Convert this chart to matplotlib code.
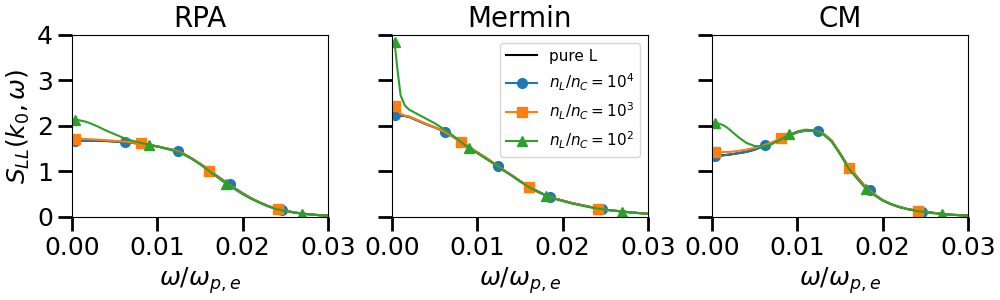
import matplotlib
matplotlib.use("Agg")
import matplotlib.pyplot as plt
import numpy as np

# shared frequency grid, omega / omega_pe
omega = [0.0003, 0.0006, 0.001, 0.0015, 0.002, 0.003, 0.004, 0.005, 0.006, 0.007,
         0.008, 0.009, 0.010, 0.011, 0.012, 0.013, 0.014, 0.015, 0.016, 0.017,
         0.018, 0.019, 0.020, 0.021, 0.022, 0.023, 0.024, 0.025, 0.026, 0.027,
         0.028, 0.029, 0.030]

titles = ["RPA", "Mermin", "CM"]
labels = ["pure L", r"$n_L/n_C=10^4$", r"$n_L/n_C=10^3$", r"$n_L/n_C=10^2$"]

# ---- RPA
rpa_pure = [1.68, 1.68, 1.68, 1.68, 1.68, 1.675, 1.67, 1.66, 1.645, 1.63,
            1.61, 1.58, 1.55, 1.51, 1.47, 1.40, 1.29, 1.17, 1.04, 0.90,
            0.77, 0.64, 0.52, 0.41, 0.32, 0.24, 0.18, 0.14, 0.10, 0.075,
            0.055, 0.04, 0.03]
rpa_1e4 = rpa_pure
rpa_1e3 = [1.72, 1.72, 1.715, 1.715, 1.71, 1.70, 1.69, 1.675, 1.66, 1.64,
           1.62, 1.59, 1.555, 1.51, 1.47, 1.40, 1.29, 1.17, 1.03, 0.89,
           0.76, 0.63, 0.51, 0.41, 0.32, 0.24, 0.18, 0.14, 0.10, 0.075,
           0.055, 0.04, 0.03]
rpa_1e2 = [2.14, 2.14, 2.12, 2.10, 2.07, 1.99, 1.90, 1.82, 1.74, 1.68,
           1.63, 1.59, 1.55, 1.50, 1.45, 1.38, 1.28, 1.16, 1.02, 0.88,
           0.74, 0.62, 0.50, 0.40, 0.31, 0.23, 0.17, 0.13, 0.10, 0.07,
           0.055, 0.04, 0.03]

# ---- Mermin
mer_pure = [2.24, 2.24, 2.23, 2.22, 2.20, 2.12, 2.04, 1.97, 1.89, 1.78,
            1.67, 1.54, 1.42, 1.30, 1.17, 1.04, 0.92, 0.79, 0.67, 0.57,
            0.48, 0.41, 0.36, 0.31, 0.27, 0.23, 0.19, 0.16, 0.14, 0.12,
            0.10, 0.085, 0.07]
mer_1e4 = mer_pure
mer_1e3 = [2.45, 2.35, 2.27, 2.23, 2.21, 2.13, 2.05, 1.97, 1.89, 1.78,
           1.67, 1.54, 1.42, 1.30, 1.17, 1.04, 0.92, 0.79, 0.66, 0.56,
           0.48, 0.41, 0.36, 0.31, 0.27, 0.23, 0.19, 0.16, 0.14, 0.12,
           0.10, 0.085, 0.07]
mer_1e2 = [3.85, 3.30, 2.68, 2.45, 2.36, 2.26, 2.16, 2.06, 1.94, 1.81,
           1.66, 1.52, 1.40, 1.28, 1.16, 1.03, 0.91, 0.78, 0.66, 0.56,
           0.47, 0.40, 0.35, 0.30, 0.26, 0.22, 0.19, 0.16, 0.14, 0.12,
           0.10, 0.085, 0.07]

# ---- CM
cm_pure = [1.33, 1.34, 1.35, 1.36, 1.37, 1.40, 1.43, 1.48, 1.56, 1.63,
           1.71, 1.79, 1.86, 1.90, 1.90, 1.84, 1.68, 1.40, 1.10, 0.88,
           0.66, 0.50, 0.37, 0.28, 0.22, 0.17, 0.14, 0.11, 0.09, 0.07,
           0.05, 0.04, 0.03]
cm_1e4 = cm_pure
cm_1e3 = [1.42, 1.42, 1.42, 1.43, 1.43, 1.45, 1.48, 1.52, 1.57, 1.64,
          1.72, 1.80, 1.87, 1.91, 1.90, 1.84, 1.68, 1.40, 1.09, 0.87,
          0.66, 0.50, 0.37, 0.28, 0.22, 0.17, 0.14, 0.11, 0.09, 0.07,
          0.05, 0.04, 0.03]
cm_1e2 = [2.06, 2.06, 2.04, 2.00, 1.93, 1.77, 1.63, 1.56, 1.55, 1.60,
          1.70, 1.80, 1.88, 1.92, 1.90, 1.82, 1.66, 1.38, 1.07, 0.84,
          0.63, 0.48, 0.36, 0.28, 0.21, 0.17, 0.13, 0.11, 0.08, 0.065,
          0.05, 0.04, 0.03]

# marker positions (sparse markers on each curve)
mk_x_1e4 = [0.0003, 0.0062, 0.0124, 0.0185, 0.0246]
mk_x_1e3 = [0.0003, 0.0081, 0.0161, 0.0241]
mk_x_1e2 = [0.0003, 0.0090, 0.0180, 0.0269]

mk_y = {
    "RPA": ([1.68, 1.64, 1.45, 0.72, 0.15],
            [1.72, 1.62, 1.02, 0.18],
            [2.13, 1.58, 0.73, 0.07]),
    "Mermin": ([2.24, 1.86, 1.12, 0.45, 0.17],
               [2.45, 1.65, 0.65, 0.18],
               [3.85, 1.51, 0.47, 0.10]),
    "CM": ([1.33, 1.58, 1.89, 0.59, 0.12],
           [1.42, 1.73, 1.08, 0.13],
           [2.06, 1.82, 0.61, 0.06]),
}

curves = {
    "RPA": (rpa_pure, rpa_1e4, rpa_1e3, rpa_1e2),
    "Mermin": (mer_pure, mer_1e4, mer_1e3, mer_1e2),
    "CM": (cm_pure, cm_1e4, cm_1e3, cm_1e2),
}

colors = ["black", "tab:blue", "tab:orange", "tab:green"]
markers = [None, "o", "s", "^"]
mk_xs = [None, mk_x_1e4, mk_x_1e3, mk_x_1e2]

fig = plt.figure(figsize=(10, 3), dpi=100)
lefts = [0.072, 0.392, 0.712]
axes = []
for i, name in enumerate(titles):
    ax = fig.add_axes([lefts[i], 0.2767, 0.256, 0.6067])
    axes.append(ax)
    ys = curves[name]
    for k in range(4):
        ax.plot(omega, ys[k], color=colors[k], lw=1.5)
        if k > 0:
            ax.plot(mk_xs[k], mk_y[name][k - 1], ls="none", marker=markers[k],
                    color=colors[k], ms=7)
    ax.set_xlim(0, 0.03)
    ax.set_ylim(0, 4)
    ax.set_xticks([0, 0.01, 0.02, 0.03])
    ax.set_xticklabels(["0.00", "0.01", "0.02", "0.03"])
    ax.set_yticks([0, 1, 2, 3, 4])
    ax.tick_params(axis="both", which="major", labelsize=18, length=10, width=2)
    ax.set_title(name, fontsize=20)
    ax.set_xlabel(r"$\omega/\omega_{p,e}$", fontsize=18)
    if i == 0:
        ax.set_ylabel(r"$S_{LL}(k_0,\omega)$", fontsize=18)
    else:
        ax.set_yticklabels([])

# legend handles with line + marker
handles = []
for k in range(4):
    h, = axes[1].plot([], [], color=colors[k], marker=markers[k], lw=1.5, ms=7)
    handles.append(h)
axes[1].legend(handles, labels, loc="upper right", fontsize=11)

fig.savefig("out.png", dpi=100)
